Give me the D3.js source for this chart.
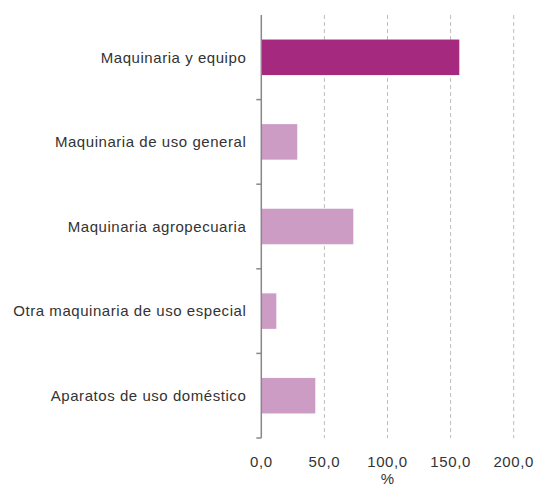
<!DOCTYPE html>
<html><head><meta charset="utf-8">
<script src="https://cdn.jsdelivr.net/npm/d3@7"></script>
<style>body{margin:0;background:#fff}svg{display:block}</style>
</head><body>
<script>
const categories = ["Maquinaria y equipo","Maquinaria de uso general","Maquinaria agropecuaria","Otra maquinaria de uso especial","Aparatos de uso doméstico"];
const values = [156.9, 28.5, 72.9, 11.9, 42.8];
const highlight = [true, false, false, false, false];
const tickValues = [0, 50, 100, 150, 200];
const axisTitle = "%";

const W = 535, H = 488;
const m = {left: 261.3, right: 535-513.7, top: 15, bottom: 488-438};
const svg = d3.select("body").append("svg").attr("width", W).attr("height", H);
const x = d3.scaleLinear().domain([0, 200]).range([m.left, W - m.right]);
const y = d3.scaleBand().domain(categories).range([m.top, H - m.bottom]).paddingInner(0.58).paddingOuter(0.29);
const font = "'Liberation Sans', Arial, sans-serif";

// gridlines
svg.append("g").selectAll("line").data(tickValues.filter(d => d > 0)).join("line")
  .attr("x1", d => x(d)).attr("x2", d => x(d))
  .attr("y1", m.top).attr("y2", H - m.bottom)
  .attr("stroke", "#bdbdbd").attr("stroke-width", 1).attr("stroke-dasharray", "4,3");

// bars
svg.append("g").selectAll("rect").data(categories).join("rect")
  .attr("x", x(0)).attr("y", d => y(d))
  .attr("width", (d, i) => x(values[i]) - x(0)).attr("height", y.bandwidth())
  .attr("fill", (d, i) => highlight[i] ? "#a5297f" : "#cc9cc5");

// y axis
const yAxisG = svg.append("g");
yAxisG.append("line").attr("x1", x(0)).attr("x2", x(0)).attr("y1", m.top).attr("y2", H - m.bottom)
  .attr("stroke", "#888").attr("stroke-width", 1.5);
const tickYs = d3.range(1, categories.length + 1).map(i => m.top + i * (H - m.bottom - m.top) / categories.length);
yAxisG.selectAll("line.t").data(tickYs).join("line").attr("class", "t")
  .attr("x1", x(0) - 5).attr("x2", x(0)).attr("y1", d => d).attr("y2", d => d)
  .attr("stroke", "#888").attr("stroke-width", 1.5);
yAxisG.selectAll("text").data(categories).join("text")
  .attr("x", x(0) - 15).attr("y", d => y(d) + y.bandwidth() / 2)
  .attr("dy", "0.35em").attr("text-anchor", "end")
  .attr("font-family", font).attr("font-size", 15).attr("letter-spacing", "0.55px").attr("fill", "#333")
  .text(d => d);

// x tick labels
const fmt = d => d3.format(".1f")(d).replace(".", ",");
svg.append("g").selectAll("text").data(tickValues).join("text")
  .attr("x", d => x(d)).attr("y", 462).attr("dy", "0.35em").attr("text-anchor", "middle")
  .attr("font-family", font).attr("font-size", 15).attr("letter-spacing", "0.6px").attr("fill", "#333")
  .text(fmt);
svg.append("text").attr("x", x(100)).attr("y", 484).attr("text-anchor", "middle")
  .attr("font-family", font).attr("font-size", 15).attr("fill", "#333").text(axisTitle);
</script>
</body></html>
